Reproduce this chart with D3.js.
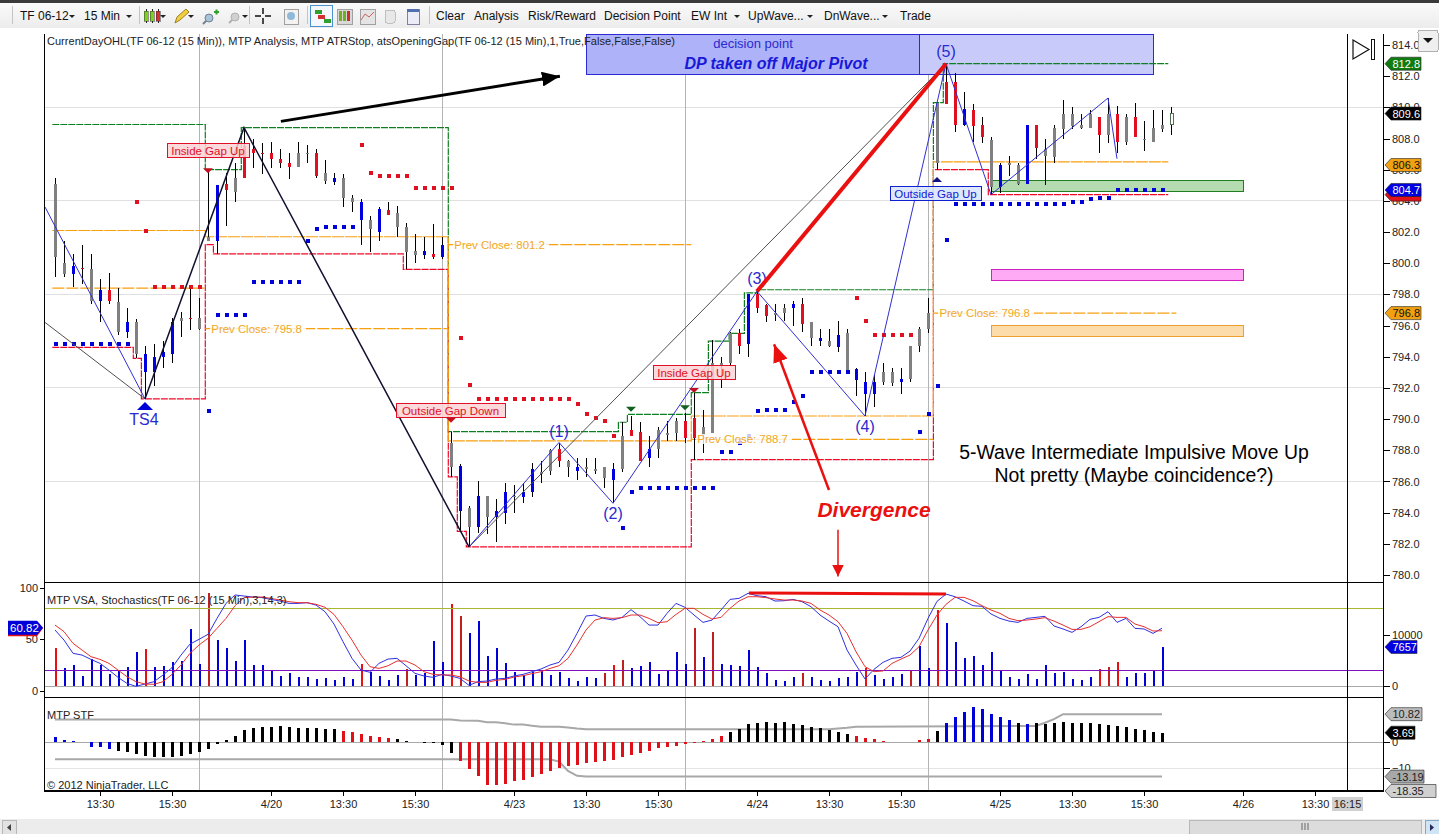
<!DOCTYPE html>
<html>
<head>
<meta charset="utf-8">
<script src="https://cdn.jsdelivr.net/npm/d3@7"></script>
<style>
  html, body { margin: 0; padding: 0; background: #fff; overflow: hidden; }
  svg { display: block; }
  text { font-family: "Liberation Sans", Arial, sans-serif; }
  line, rect { shape-rendering: crispEdges; }
</style>
</head>
<body>
<svg width="1439" height="834"></svg>
<script>
// candles, one entry per 15 min bar
const highs = [805.5,801.4,800.6,801.2,800.6,799.0,799.4,798.4,797.1,796.4,
  794.7,794.8,795.0,796.5,796.9,798.5,797.8,806.0,805.0,805.8,
  806.4,808.7,808.0,807.7,807.8,807.3,807.1,807.8,807.6,807.3,
  806.6,805.8,805.7,804.4,804.1,803.0,803.6,803.9,803.7,802.6,
  801.9,801.7,802.5,801.7,789.2,787.1,784.4,786.0,785.1,784.9,
  785.9,785.8,785.9,787.2,787.3,788.1,788.5,787.4,787.5,787.5,
  787.5,786.9,787.2,789.8,790.2,789.8,788.9,789.5,789.9,790.1,
  790.4,791.7,790.6,795.1,794.0,795.6,795.8,798.0,798.2,797.4,
  797.4,797.4,797.6,797.8,796.2,795.8,795.8,796.3,795.8,793.3,
  793.0,792.8,793.6,793.3,793.3,794.7,795.9,797.8,810.3,812.8,
  812.2,811.0,810.2,809.4,808.1,806.4,806.9,806.4,808.9,808.9,
  808.0,808.9,810.5,810.0,809.6,809.8,809.4,810.6,810.1,809.6,
  810.3,809.1,809.8,809.8,810.0];
const lows = [799.1,799.1,798.5,798.7,797.4,796.2,797.4,795.4,795.2,793.9,
  791.3,792.1,793.3,793.6,795.3,795.7,795.7,801.4,800.6,802.4,
  803.9,805.5,806.1,805.7,806.1,806.1,805.4,806.2,806.4,805.5,
  805.1,805.0,803.6,803.3,801.2,800.7,801.4,803.1,801.7,799.6,
  800.0,800.3,800.3,800.3,786.3,782.8,781.8,782.7,782.6,782.1,
  783.3,784.0,784.6,785.0,785.9,786.4,786.9,786.3,786.1,786.3,
  786.5,785.6,784.6,786.6,788.9,787.3,786.9,787.5,788.6,788.6,
  788.5,787.4,787.8,789.1,792.0,793.5,794.2,794.0,796.8,796.2,
  796.3,796.3,796.0,795.6,794.7,794.7,794.6,794.3,793.1,791.5,
  790.2,790.8,792.2,792.1,791.6,792.4,794.3,795.5,806.0,810.2,
  808.4,808.8,807.8,807.7,804.4,804.5,805.6,805.0,805.1,806.7,
  805.0,806.4,808.0,808.6,808.6,808.7,807.1,807.7,807.1,807.6,
  808.1,807.2,807.8,808.4,808.2];
const opens = [800.4,799.3,799.3,799.7,797.6,797.6,798.3,795.6,795.6,794.2,
  793.0,793.0,794.0,794.2,796.3,796.5,795.8,801.4,801.4,805.1,
  804.6,807.5,807.3,807.1,807.1,806.7,806.4,806.2,807.0,807.1,
  805.3,805.2,804.2,803.9,802.8,802.2,802.0,803.4,802.3,800.7,
  800.5,800.5,800.6,800.4,786.9,784.1,783.1,783.1,783.7,783.7,
  784.0,785.0,785.0,785.3,786.5,786.7,788.1,786.9,786.7,786.8,
  786.7,786.2,786.1,786.8,789.3,789.2,787.5,788.1,789.0,789.1,
  789.9,790.1,789.0,789.1,793.5,793.6,795.5,794.8,798.0,797.3,
  796.7,796.8,797.1,797.4,795.2,795.0,794.7,794.6,793.1,792.5,
  791.6,791.6,792.4,792.3,792.4,792.6,794.7,795.8,806.4,811.6,
  811.6,808.9,809.8,808.9,804.9,804.9,806.3,805.1,805.1,808.9,
  806.9,806.8,808.6,808.8,808.7,808.7,809.4,808.2,809.6,807.8,
  809.4,807.9,807.8,808.6,808.9];
const closes = [805.1,800.0,799.8,799.6,799.6,798.3,797.6,797.5,796.2,796.2,
  794.2,794.0,794.3,796.2,796.5,796.4,796.5,801.7,805.0,804.7,
  805.5,805.5,807.1,807.0,806.7,806.4,806.2,807.1,807.1,805.6,
  805.8,805.5,805.5,804.2,803.9,802.8,803.5,803.1,803.2,802.3,
  800.8,800.8,800.4,801.2,788.5,787.0,784.3,785.1,785.1,784.1,
  785.3,785.1,785.3,786.8,786.6,788.0,787.3,787.3,786.9,786.9,
  786.8,786.9,786.8,788.9,788.9,787.3,788.1,789.3,789.1,789.9,
  788.8,788.8,789.5,793.6,793.6,795.5,794.7,798.0,797.1,796.6,
  796.8,797.1,797.4,796.1,796.2,795.2,795.0,795.4,795.5,793.2,
  792.4,792.4,793.0,793.0,792.6,794.7,795.8,796.8,810.3,810.2,
  808.9,809.9,808.8,808.1,807.9,806.3,806.4,806.3,808.9,807.4,
  807.3,808.7,809.6,809.6,808.9,809.6,808.2,809.6,807.8,809.4,
  808.1,808.0,808.7,808.9,809.6];
const barColors = "ggbrgbrgbg" + "bbbbgrggbr" + "grrrrrrggr" + "gbggbgbrgg" + "gbrbgbgbgb" +
  "bgbbggrgbg" + "ggbgrrbggg" + "rrggggrbrr" + "ggbrgbgbgb" + "bbggbggggr" +
  "rbrrgbggbr" + "ggggggrgrg" + "rgggw";

// ATR stop dots
const stopValues = [794.8,794.8,794.8,794.8,794.8,794.8,794.8,794.8,794.8,803.9,
  802.1,798.5,798.5,798.5,798.5,798.5,798.5,790.5,796.7,796.7,
  796.7,796.7,798.8,798.8,798.8,798.8,798.8,798.8,801.4,802.2,
  802.3,802.3,802.3,802.3,807.6,805.8,805.6,805.6,805.6,805.6,
  804.8,804.8,804.8,804.8,804.8,795.2,792.2,791.3,791.3,791.3,
  791.3,791.3,791.3,791.3,791.3,791.3,791.3,791.3,791.0,790.3,
  790.1,789.9,788.9,783.0,785.3,785.6,785.6,785.6,785.6,785.6,
  785.6,785.6,785.6,785.6,787.9,787.9,788.5,788.9,790.5,790.6,
  790.6,790.6,791.1,791.5,793.0,793.0,793.0,793.0,793.0,797.8,
  796.3,795.4,795.4,795.4,795.4,795.4,789.2,790.3,792.1,801.5,
  803.8,803.8,803.8,803.8,803.8,803.8,803.8,803.8,803.8,803.8,
  803.8,803.8,803.8,803.9,803.9,804.1,804.2,804.2,804.7,804.7,
  804.7,804.7,804.7,804.7];
const stopRedBars = [[9,16],[34,62],[89,95]];

// volume, stochastics
const volume = [7390,3470,4120,1960,5300,4120,2350,3140,3730,6670,
  7260,3730,3920,4710,4900,11180,4320,18180,9030,7460,
  4900,9030,4120,4120,3140,1960,2550,1770,1770,1370,
  1570,1180,1770,1370,4320,2810,1960,1180,2160,3340,
  2160,2550,8830,4710,16090,13730,10400,12750,5890,7460,
  4510,2750,2160,2810,3140,2160,2750,1570,980,1770,
  1570,2550,4120,5100,3530,3920,4710,2350,3140,6670,
  4320,11380,5690,10590,4320,4120,3920,7060,3730,2550,
  1180,980,1770,2550,1770,1180,980,1570,1770,2750,
  3530,2160,1370,1770,2350,2940,7850,3530,14910,12360,
  8630,5490,5890,4120,6670,2940,1770,1370,2350,1370,
  4120,2550,2750,1370,1180,1770,3340,3730,4710,1770,
  2550,2550,3010,7657];
const volRedBars = [0,10,34,44,62,90,98,116,118];
const volDarkBars = [17,39,45,61,63,71,73,83,95,117];
const stochK = [59.1,49.3,36.4,34.7,30.5,26.6,20.1,13.0,7.1,4.2,
  6.5,8.8,15.3,22.4,34.7,45.4,50.0,54.9,70.4,85.0,
  93.2,92.2,91.2,90.6,88.9,87.3,85.0,85.0,85.7,83.4,
  76.9,64.9,47.7,31.5,20.1,17.9,26.6,30.8,31.5,24.3,
  16.9,14.3,13.0,15.9,14.3,12.0,5.2,8.8,9.4,11.4,
  12.0,14.3,15.9,18.5,21.1,25.0,27.6,39.6,55.8,72.7,
  73.7,70.4,68.8,71.4,78.9,72.1,63.9,63.9,75.3,85.0,
  81.2,73.7,66.5,68.8,78.6,88.9,89.9,94.8,92.5,91.5,
  87.3,87.6,88.9,86.7,81.8,73.7,67.8,62.3,39.6,25.0,
  11.4,20.8,27.6,31.5,32.5,38.6,51.0,70.4,87.0,94.1,
  91.5,87.3,82.8,82.1,74.7,70.4,67.8,66.5,70.4,71.4,
  72.4,63.0,60.1,56.8,62.3,69.5,71.4,76.9,66.5,70.4,
  60.7,60.1,55.8,60.82];
const stochD = [63.9,57.5,46.1,39.6,33.1,30.5,26.6,20.1,13.6,8.8,
  6.5,6.2,8.8,15.9,25.0,36.4,44.5,51.0,60.7,70.4,
  82.8,90.6,91.2,91.2,89.9,88.3,86.7,85.7,85.7,84.1,
  81.2,74.3,62.3,49.3,34.7,23.4,21.7,24.3,28.9,28.9,
  25.0,18.5,15.9,15.3,15.3,13.6,9.4,8.1,8.1,10.1,
  11.0,13.3,14.6,16.6,18.5,21.7,24.3,31.5,44.5,59.1,
  68.8,71.1,70.4,71.1,73.7,73.7,70.4,66.2,67.2,74.3,
  80.2,80.2,74.3,69.8,71.4,80.2,87.3,91.5,91.5,90.6,
  89.3,88.3,88.3,87.3,85.0,78.6,73.7,67.2,55.8,38.0,
  23.4,18.5,19.2,26.6,30.8,34.7,42.8,59.1,73.7,84.1,
  90.9,90.9,87.6,82.8,78.6,75.3,70.4,68.2,68.8,69.8,
  71.1,67.8,63.9,59.7,59.7,62.3,67.2,72.1,71.4,71.4,
  64.9,62.3,58.1,58.4];

// MTP STF histogram and its bands
const stfValues = [1.9,0.9,0.5,0.1,-1.8,-1.8,-2.4,-3.3,-3.6,-4.5,
  -5.2,-5.6,-5.6,-5.6,-5.2,-4.5,-3.7,-2.6,-0.6,0.8,
  2.4,4.7,5.5,5.9,5.9,6.3,5.9,5.5,5.5,5.5,
  5.1,5.1,4.4,4.0,3.2,2.4,2.0,1.7,1.3,0.5,
  0.1,-0.1,-0.3,-1.2,-4.0,-7.0,-10.1,-12.9,-16.4,-16.4,
  -16.0,-14.8,-14.5,-13.3,-12.2,-11.0,-9.9,-9.1,-8.7,-7.9,
  -7.6,-7.2,-6.8,-5.6,-4.9,-4.1,-3.3,-2.2,-1.8,-1.4,
  -0.6,-0.3,0.5,1.3,2.4,4.0,5.1,7.0,7.4,7.8,
  7.4,7.8,7.0,6.7,5.9,5.5,4.7,4.0,3.2,2.4,
  1.7,1.3,0.5,0.1,0,0.1,0.9,1.3,4.4,7.4,
  9.7,11.6,13.6,12.8,10.9,9.7,8.6,7.4,7.0,7.4,
  7.0,7.4,7.8,7.4,7.4,7.4,7.0,6.7,6.3,5.9,
  5.1,4.7,4.0,3.69];
const stfBlueBars = [[0,6],[99,106],[108,108]];
const stfRedBars = [[32,37],[45,74],[89,97]];
const upperBandBars = [0,44,45,47,48,49,50,51,52,53,54,56,57,58,59,86,87,88,89,109,110,111,112,123];
const upperBand = [8.8,8.8,8.4,8.3,7.7,7.7,7.3,6.8,6.8,6.4,6.0,6.0,5.7,5.3,5.0,5.0,5.3,5.6,6.0,6.3,7.5,8.9,10.82,10.82];
const lowerBandBars = [0,55,56,57,58,59,123];
const lowerBand = [-6.5,-6.5,-7.4,-11.0,-12.9,-13.19,-13.19];

// axis ticks
const priceTicks = [780,782,784,786,788,790,792,794,796,798,800,802,804,806,808,810,812,814];
const priceGrid = [786,792,798,804,810];
const timeTickBars = [5,13,24,32,40,51,59,67,78,86,94,105,113,121,132,140];
const timeTickLabels = ["13:30","15:30","4/20","13:30","15:30","4/23","13:30","15:30","4/24","13:30","15:30","4/25","13:30","15:30","4/26","13:30"];
const sessionBars = [16.05,43.05,70.05,97.05];

// current day OHL steps as [bar, price]
const dayHigh = [[-0.3,808.9],[16.7,808.9],[16.7,806.0],[20.7,806.0],[20.7,808.7],[43.7,808.7],[43.7,789.2],[62.6,789.2],[62.6,789.8],[63.6,789.8],[63.6,790.3],[70.7,790.3],[70.7,791.7],[72.6,791.7],[72.6,795.0],[74.9,795.0],[74.9,795.5],[76.6,795.5],[76.6,798.1],[78,798.1],[78,798.3],[97.6,798.3],[97.6,810.3],[98.7,810.3],[98.7,812.8],[123.7,812.8]];
const dayLow = [[-0.3,794.6],[8.7,794.6],[8.7,793.9],[9.6,793.9],[9.6,791.3],[16.7,791.3],[16.7,801.2],[17.6,801.2],[17.6,800.6],[38.7,800.6],[38.7,799.6],[43.7,799.6],[43.7,786.3],[44.7,786.3],[44.7,782.8],[45.7,782.8],[45.7,781.8],[70.7,781.8],[70.7,787.4],[97.6,787.4],[97.6,806.0],[103.7,806.0],[103.7,804.4],[123.7,804.4]];
const dayOpen = [[-0.3,802.1],[16.7,802.1],[16.7,801.7],[43.7,801.7],[43.7,788.6],[70.7,788.6],[70.7,790.2],[97.6,790.2],[97.6,806.5],[123.7,806.5]];
const firstPrevClose = [[-0.3,798.4],[16.7,798.4]];
const prevCloseValues = [795.8,801.2,788.7,796.8];
const prevCloseFrom = [16.7,43.7,70.7,97.6];
const prevCloseTo = [43.7,70.7,97.6,124.6];

// wave lines as [bar, price]
const blackSwing = [[10,791.3],[21,808.7],[46,781.8]];
const blueLead = [[-1.1,803.6],[10,791.3]];
const grayLead = [[-1.1,796.2],[10,791.3]];
const grayTrend = [[46,781.8],[99,812.8]];
const blueWaves = [[46,781.8],[56,788.5],[62,784.6],[78,798.2],[90,790.2],[99,812.8],[104,804.4],[117,810.6],[118,806.7]];
const waveLabels = ["(1)","(2)","(3)","(4)","(5)"];
const waveLabelBars = [56,62,78,90,99];
const waveLabelPrices = [788.85,783.6,798.65,789.15,813.2];

const svg = d3.select("svg");
const font = "Liberation Sans";

const x = d3.scaleLinear().domain([0, 124]).range([55, 1171]);
const y = d3.scaleLinear().domain([780, 814]).range([575, 45]);
const yS = d3.scaleLinear().domain([0, 100]).range([690.7, 588]);
const yV = d3.scaleLinear().domain([0, 10000]).range([686, 635]);
const yF = d3.scaleLinear().domain([0, -10]).range([742.3, 768.3]);

const inRuns = (runs, i) => runs.some(r => i >= r[0] && i <= r[1]);
const pathP = d3.line().x(d => x(d[0])).y(d => y(d[1]));

// ---- window chrome
const defs = svg.append("defs");
const tbGrad = defs.append("linearGradient").attr("id", "tb").attr("x1", 0).attr("x2", 0).attr("y1", 0).attr("y2", 1);
tbGrad.append("stop").attr("offset", "0%").attr("stop-color", "#fafafa");
tbGrad.append("stop").attr("offset", "100%").attr("stop-color", "#ececec");
svg.append("rect").attr("width", 1439).attr("height", 3).attr("fill", "#3a3a3a");
svg.append("rect").attr("y", 3).attr("width", 1439).attr("height", 25).attr("fill", "url(#tb)");

const toolbar = svg.append("g").attr("font-size", 12).attr("fill", "#111");
const toolText = ["TF 06-12","15 Min","Clear","Analysis","Risk/Reward","Decision Point","EW Int","UpWave...","DnWave...","Trade"];
const toolTextX = [20,84,436,474,528,604,691,748,824,900];
toolText.forEach((t, i) => toolbar.append("text").attr("x", toolTextX[i]).attr("y", 20).text(t));
[72,129,191,245,737,810,885,163].forEach(px => toolbar.append("path").attr("d", `M${px - 3},15 h6 l-3,3 z`).attr("fill", "#222"));
[12,139,249,307,429].forEach(px => toolbar.append("line").attr("x1", px).attr("x2", px).attr("y1", 6).attr("y2", 24).attr("stroke", "#c4c4c4"));

// toolbar icons
const icon = toolbar.append("g");
[146,152,158].forEach((px, i) => {
  icon.append("line").attr("x1", px).attr("x2", px).attr("y1", 9).attr("y2", 23).attr("stroke", "#222");
  icon.append("rect").attr("x", px - 2).attr("y", 11).attr("width", 4).attr("height", 10).attr("fill", i === 2 ? "#d83030" : "#80d020").attr("stroke", "#333").attr("stroke-width", 0.5);
});
icon.append("path").attr("d", "M175,23 l2,-6 l9,-8 l3,3 l-9,8 z").attr("fill", "#f0d040").attr("stroke", "#a08020");
icon.append("circle").attr("cx", 209).attr("cy", 18).attr("r", 4).attr("fill", "#a8c4d8").attr("stroke", "#708090");
icon.append("path").attr("d", "M206,21 l-3,3").attr("stroke", "#708090").attr("stroke-width", 2);
icon.append("path").attr("d", "M214,12 h5 M216.5,9.5 v5").attr("stroke", "#30a030").attr("stroke-width", 2);
icon.append("circle").attr("cx", 235).attr("cy", 17).attr("r", 4).attr("fill", "#d0d0d0").attr("stroke", "#b0b0b0");
icon.append("path").attr("d", "M232,20 l-3,3").attr("stroke", "#b0b0b0").attr("stroke-width", 2);
icon.append("path").attr("d", "M255,16 h6 M265,16 h6 M263,8 v6 M263,18 v6").attr("stroke", "#111").attr("stroke-width", 1.5);
icon.append("rect").attr("x", 284).attr("y", 9).attr("width", 14).attr("height", 15).attr("fill", "#f2f2f2").attr("stroke", "#a0a0a0");
icon.append("circle").attr("cx", 291).attr("cy", 16).attr("r", 4).attr("fill", "#90b8d8");
icon.append("rect").attr("x", 310.5).attr("y", 5.5).attr("width", 22).attr("height", 21).attr("fill", "#f4f8fc").attr("stroke", "#4a90d0");
[[315,10,"#30a030"],[318,15,"#d83030"],[324,19,"#30a030"]].forEach(d => icon.append("rect").attr("x", d[0]).attr("y", d[1]).attr("width", 7).attr("height", 4).attr("fill", d[2]));
icon.append("rect").attr("x", 337).attr("y", 9).attr("width", 15).attr("height", 15).attr("fill", "#d8d8d8").attr("stroke", "#a0a0a0");
[340,344,348].forEach((px, i) => icon.append("rect").attr("x", px - 1).attr("y", 11).attr("width", 3).attr("height", 10).attr("fill", i === 2 ? "#c83030" : "#70b020"));
icon.append("rect").attr("x", 360).attr("y", 9).attr("width", 15).attr("height", 15).attr("fill", "#e4e4e4").attr("stroke", "#a0a0a0");
icon.append("path").attr("d", "M361,20 l4,-6 l4,3 l5,-5").attr("fill", "none").attr("stroke", "#d06060");
icon.append("rect").attr("x", 385).attr("y", 10).attr("width", 10).attr("height", 13).attr("rx", 2).attr("fill", "#e8e8e8").attr("stroke", "#c0c0c0");
icon.append("rect").attr("x", 407).attr("y", 9).attr("width", 12).attr("height", 15).attr("fill", "#ececf8").attr("stroke", "#8080a0");
icon.append("rect").attr("x", 407).attr("y", 9).attr("width", 12).attr("height", 3).attr("fill", "#5070b0");

// ---- grid and session separators
svg.append("g").selectAll("line").data(priceGrid).join("line")
  .attr("x1", 45).attr("x2", 1383).attr("y1", d => y(d)).attr("y2", d => y(d))
  .attr("stroke", "#e0e0e0");
svg.append("line").attr("x1", 45).attr("x2", 1383).attr("y1", yF(-10)).attr("y2", yF(-10)).attr("stroke", "#e4e4e4");
svg.append("g").selectAll("line").data(sessionBars).join("line")
  .attr("x1", d => x(d)).attr("x2", d => x(d)).attr("y1", 34).attr("y2", 790)
  .attr("stroke", "#b4b4b4");

// ---- zones
const zones = [[805.3,804.6,"#b4dcb0","#208020"],[799.6,798.9,"#ffaaf4","#d020c0"],[796.0,795.3,"#fbdcaa","#eca030"]];
svg.append("g").selectAll("rect").data(zones).join("rect")
  .attr("x", x(104)).attr("width", x(132.1) - x(104))
  .attr("y", d => y(d[0])).attr("height", d => y(d[1]) - y(d[0]))
  .attr("fill", d => d[2]).attr("stroke", d => d[3]);

// decision point box
svg.append("rect").attr("x", 586.5).attr("y", 34).attr("width", 333).attr("height", 40).attr("fill", "#aeb2f8").attr("stroke", "#2a2ad0");
svg.append("rect").attr("x", 919.5).attr("y", 34).attr("width", 234).attr("height", 40).attr("fill", "#c8cafa").attr("stroke", "#2a2ad0");
svg.append("text").attr("x", 753).attr("y", 48).attr("text-anchor", "middle").attr("font-size", 13).attr("fill", "#2a2ad0").text("decision point");
svg.append("text").attr("x", 776).attr("y", 69).attr("text-anchor", "middle").attr("font-size", 16).attr("font-weight", "bold").attr("font-style", "italic").attr("fill", "#1818d8").text("DP taken off Major Pivot");

// ---- OHL and previous close steps, nearly solid dashes keep their colour
const stepLine = (pts, color, dash) => svg.append("path").attr("d", pathP(pts)).attr("fill", "none").attr("stroke", color).attr("stroke-width", 1.2).attr("stroke-dasharray", dash);
stepLine(dayHigh, "#0c8020", "7,1");
stepLine(dayLow, "#f00828", "7,1");
prevCloseValues.forEach((v, i) => {
  stepLine([[prevCloseFrom[i], v], [prevCloseTo[i], v]], "#f8a010", "12,2");
});
stepLine(firstPrevClose, "#f8a010", "12,2");
stepLine(dayOpen, "#f8a010", "12,1");

// ---- candles
const cColor = { g: "#808080", b: "#0000e0", r: "#e01020", w: "#fff" };
const candles = svg.append("g").selectAll("g").data(d3.range(highs.length)).join("g");
candles.append("line")
  .attr("x1", i => x(i) + 0.5).attr("x2", i => x(i) + 0.5)
  .attr("y1", i => y(highs[i])).attr("y2", i => y(lows[i]))
  .attr("stroke", "#000");
candles.append("rect")
  .attr("x", i => x(i) - 1).attr("width", 3)
  .attr("y", i => y(Math.max(opens[i], closes[i])))
  .attr("height", i => Math.max(1.5, Math.abs(y(opens[i]) - y(closes[i]))))
  .attr("fill", i => cColor[barColors[i]])
  .attr("stroke", i => barColors[i] === "w" ? "#507050" : "none");

// ---- ATR stop dots
svg.append("g").selectAll("rect").data(d3.range(stopValues.length)).join("rect")
  .attr("x", i => x(i) - 1.5).attr("y", i => y(stopValues[i]) - 2)
  .attr("width", 4).attr("height", 4)
  .attr("fill", i => inRuns(stopRedBars, i) ? "#e01020" : "#0000d8");

// ---- swing lines and waves
const swing = (pts, color, w) => svg.append("path").attr("d", pathP(pts)).attr("fill", "none").attr("stroke", color).attr("stroke-width", w);
swing(grayLead, "#505050", 1);
swing(grayTrend, "#505050", 1);
swing(blueLead, "#3030d0", 1);
swing(blueWaves, "#3030d0", 1);
swing(blackSwing, "#101030", 1.5);

svg.append("g").selectAll("text").data(waveLabels).join("text")
  .attr("x", (d, i) => x(waveLabelBars[i])).attr("y", (d, i) => y(waveLabelPrices[i]))
  .attr("text-anchor", "middle").attr("font-size", 16).attr("fill", "#2a2ad0").text(d => d);

// TS4 marker
svg.append("path").attr("d", `M${x(10)},${y(791.1)} l8,8 h-16 z`).attr("fill", "#0000d8");
svg.append("text").attr("x", x(10) - 1).attr("y", y(790) + 6).attr("text-anchor", "middle").attr("font-size", 16).attr("fill", "#2a2ad0").text("TS4");

// ---- gap boxes
const gapText = ["Inside Gap Up","Outside Gap Down","Inside Gap Up","Outside Gap Up"];
const gapLeft = [167,396,653,890];
const gapTop = [143,403,365,186];
const gapWidth = [82,109,82,91];
const gapBlue = [false,false,false,true];
gapText.forEach((t, i) => {
  const c = gapBlue[i] ? "#1020d0" : "#e01028";
  svg.append("rect").attr("x", gapLeft[i] + 0.5).attr("y", gapTop[i] + 0.5).attr("width", gapWidth[i]).attr("height", 14)
    .attr("fill", gapBlue[i] ? "#d8e4fc" : "#fbd2d4").attr("stroke", c).attr("fill-opacity", 0.85);
  svg.append("text").attr("x", gapLeft[i] + gapWidth[i] / 2).attr("y", gapTop[i] + 11.5)
    .attr("text-anchor", "middle").attr("font-size", 11.5).attr("fill", c).text(t);
});
const gapArrows = [[17,805.9,"#c01020",1],[44,789.9,"#c01020",1],[71,791.8,"#c01020",1],[98,805.4,"#101080",-1],[64,790.6,"#106020",1],[70,790.7,"#106020",1]];
svg.append("g").selectAll("path").data(gapArrows).join("path")
  .attr("d", d => `M${x(d[0]) - 5},${y(d[1]) - 3 * d[3]} h10 l-5,${5 * d[3]} z`)
  .attr("fill", d => d[2]);

// prev close labels over the lines
prevCloseValues.forEach((v, i) => {
  const left = x(prevCloseFrom[i]) + 5;
  svg.append("rect").attr("x", left).attr("y", y(v) - 5).attr("width", 96).attr("height", 10).attr("fill", "#fff").attr("fill-opacity", 0.8);
  svg.append("text").attr("x", left + 1).attr("y", y(v) + 4)
    .attr("font-size", 11.4).attr("fill", "#f0a828")
    .text("Prev Close: " + v.toFixed(1));
});

// ---- drawn annotations
const arrowHead = (id, color, w, h) => {
  defs.append("marker").attr("id", id).attr("markerUnits", "userSpaceOnUse")
    .attr("viewBox", `0 0 ${w} ${h}`).attr("markerWidth", w).attr("markerHeight", h)
    .attr("refX", w).attr("refY", h / 2).attr("orient", "auto")
    .append("path").attr("d", `M0,0 L${w},${h / 2} L0,${h} Z`).attr("fill", color);
};
arrowHead("ah-black", "#000", 18, 15);
arrowHead("ah-red", "#ea1010", 18, 15);
arrowHead("ah-red2", "#ea1010", 12, 12);
const arrow = (a, b, color, w, m) => svg.append("line")
  .attr("x1", x(a[0])).attr("y1", y(a[1])).attr("x2", x(b[0])).attr("y2", y(b[1]))
  .attr("stroke", color).attr("stroke-width", w).attr("marker-end", m ? `url(#${m})` : null)
  .style("shape-rendering", "geometricPrecision");
arrow([25.1, 809.1], [56.1, 812.0], "#000", 3, "ah-black");
arrow([78, 798.2], [99, 812.8], "#ea1010", 4);
arrow([86, 785.45], [79.9, 794.8], "#ea1010", 2.5, "ah-red");
arrow([87, 782.9], [87, 779.9], "#ea1010", 1.5, "ah-red2");
svg.append("text").attr("x", x(91)).attr("y", y(784.4) + 11).attr("text-anchor", "middle")
  .attr("font-size", 21).attr("font-weight", "bold").attr("font-style", "italic").attr("fill", "#ea1010").text("Divergence");

const noteLines = ["5-Wave Intermediate Impulsive Move Up","Not pretty (Maybe coincidence?)"];
svg.append("g").selectAll("text").data(noteLines).join("text")
  .attr("x", 1134).attr("y", (d, i) => 459 + i * 23).attr("text-anchor", "middle")
  .attr("font-size", 19.4).attr("fill", "#000").text(d => d);

// ---- volume and stochastics pane
const volFill = i => volRedBars.includes(i) ? "#e81010" : volDarkBars.includes(i) ? "#c02020" : "#0000d8";
svg.append("g").selectAll("rect").data(d3.range(volume.length)).join("rect")
  .attr("x", i => x(i) - 0.5).attr("width", 2)
  .attr("y", i => yV(volume[i])).attr("height", i => yV(0) - yV(volume[i]))
  .attr("fill", volFill);
svg.append("line").attr("x1", 45).attr("x2", 1383).attr("y1", yV(0) + 0.5).attr("y2", yV(0) + 0.5).attr("stroke", "#a8a8a8");
svg.append("line").attr("x1", 45).attr("x2", 1383).attr("y1", yS(80)).attr("y2", yS(80)).attr("stroke", "#a8b830");
svg.append("line").attr("x1", 45).attr("x2", 1383).attr("y1", yS(20)).attr("y2", yS(20)).attr("stroke", "#8010c0");
const stochLine = d3.line().x((d, i) => x(i)).y(d => yS(d));
svg.append("path").attr("d", stochLine(stochK)).attr("fill", "none").attr("stroke", "#3030e0");
svg.append("path").attr("d", stochLine(stochD)).attr("fill", "none").attr("stroke", "#e83030");
svg.append("line").attr("x1", x(77.1)).attr("x2", x(99)).attr("y1", yS(95.1)).attr("y2", yS(94.1)).attr("stroke", "#ea1010").attr("stroke-width", 3).style("shape-rendering", "geometricPrecision");

// ---- STF pane
const stfFill = i => inRuns(stfBlueBars, i) ? "#0000d8" : inRuns(stfRedBars, i) ? "#e01018" : "#000";
svg.append("line").attr("x1", 45).attr("x2", 1383).attr("y1", yF(0)).attr("y2", yF(0)).attr("stroke", "#a8a8a8");
const bandLine = bars => d3.line().x((d, i) => x(bars[i])).y(d => yF(d));
svg.append("path").attr("d", bandLine(upperBandBars)(upperBand)).attr("fill", "none").attr("stroke", "#a8a8a8").attr("stroke-width", 2);
svg.append("path").attr("d", bandLine(lowerBandBars)(lowerBand)).attr("fill", "none").attr("stroke", "#a8a8a8").attr("stroke-width", 2);
svg.append("g").selectAll("rect").data(d3.range(stfValues.length)).join("rect")
  .attr("x", i => x(i) - 1).attr("width", 3)
  .attr("y", i => yF(Math.max(0, stfValues[i])))
  .attr("height", i => Math.abs(yF(stfValues[i]) - yF(0)))
  .attr("fill", stfFill);

// ---- panel text
const paneText = svg.append("g").attr("font-size", 11).attr("fill", "#222");
paneText.append("text").attr("x", 47).attr("y", 45).attr("textLength", 628).text("CurrentDayOHL(TF 06-12 (15 Min)), MTP Analysis, MTP ATRStop, atsOpeningGap(TF 06-12 (15 Min),1,True,False,False,False)");
paneText.append("text").attr("x", 47).attr("y", 604).text("MTP VSA, Stochastics(TF 06-12 (15 Min),3,14,3)");
paneText.append("text").attr("x", 47).attr("y", 719).text("MTP STF");
paneText.append("text").attr("x", 47).attr("y", 789).text("© 2012 NinjaTrader, LLC");

// ---- frame
const frame = [[44.5,34,44.5,790],[1347.5,34,1347.5,790],[1383.5,34,1383.5,790],[44.5,582.5,1383.5,582.5],[44.5,697.5,1383.5,697.5]];
svg.append("g").selectAll("line").data(frame).join("line")
  .attr("x1", d => d[0]).attr("y1", d => d[1]).attr("x2", d => d[2]).attr("y2", d => d[3]).attr("stroke", "#000");
svg.append("line").attr("x1", 44).attr("x2", 1384).attr("y1", 791).attr("y2", 791).attr("stroke", "#000").attr("stroke-width", 2);

// ---- axes
const styleAxis = g => {
  g.select(".domain").remove();
  g.selectAll("text").attr("font-size", 11).attr("font-family", font).attr("fill", "#222");
};
svg.append("g").attr("transform", "translate(1384,0)")
  .call(d3.axisRight(y).tickValues(priceTicks).tickSize(6).tickPadding(2).tickFormat(d3.format(".1f"))).call(styleAxis);
svg.append("g").attr("transform", "translate(1384,0)")
  .call(d3.axisRight(yV).tickValues([0, 10000]).tickSize(6).tickPadding(2).tickFormat(d3.format("d"))).call(styleAxis);
svg.append("g").attr("transform", "translate(1384,0)")
  .call(d3.axisRight(yF).tickValues([0, -10]).tickSize(6).tickPadding(2).tickFormat(d3.format("d"))).call(styleAxis);
svg.append("g").attr("transform", "translate(44,0)")
  .call(d3.axisLeft(yS).tickValues([0, 50, 100]).tickSize(4).tickPadding(2).tickFormat(d3.format("d"))).call(styleAxis);
svg.append("g").attr("transform", "translate(0,792)")
  .call(d3.axisBottom(x).tickValues(timeTickBars).tickSize(4).tickPadding(4)
    .tickFormat((d, i) => timeTickLabels[i])).call(styleAxis);

// ---- value flags on the axes
const flagValues = [812.8,806.3,804.4,804.7,796.8,809.6];
const flagFills = ["#107c10","#f0a010","#e01018","#0000e0","#f0a010","#000"];
const flagInk = ["#fff","#111","#fff","#fff","#111","#fff"];
const drawFlag = (py, w, label, fill, ink) => {
  const g = svg.append("g").attr("transform", `translate(1385,${py})`);
  g.append("path").attr("d", `M0,0 l6,-6.5 h${w - 6} v13 h-${w - 6} z`).attr("fill", fill).attr("stroke", "#222").attr("stroke-width", 0.6);
  if (label) g.append("text").attr("x", 7.5).attr("y", 4).attr("font-size", 11).attr("fill", ink).text(label);
};
// the red low flag sits almost fully behind the blue one, so it carries no label
flagValues.forEach((v, i) => drawFlag(y(v), 36, flagFills[i] === "#e01018" ? null : v.toFixed(1), flagFills[i], flagInk[i]));
drawFlag(yV(volume[123]), 32, "7657", "#0000e0", "#fff");
drawFlag(yF(10.82), 37, "10.82", "#bcbcbc", "#222");
drawFlag(yF(3.69), 30, "3.69", "#000", "#fff");
drawFlag(yF(-13.19), 39, "-13.19", "#a8a8a8", "#222");
drawFlag(791, 51, "-18.35", "#d0d0d0", "#222");

// left stochastic flag
const leftFlag = svg.append("g").attr("transform", `translate(43,${yS(stochK[123])})`);
leftFlag.append("path").attr("d", "M0,0 l-6,-7 h-29 v15 h29 z").attr("fill", "#e01010");
leftFlag.append("path").attr("d", "M0,-0.5 l-6,-7 h-29 v14 h29 z").attr("fill", "#0000d8");
leftFlag.append("text").attr("x", -33).attr("y", 4).attr("font-size", 11.5).attr("fill", "#fff").text(stochK[123].toFixed(2));

// current bar time
svg.append("rect").attr("x", 1332).attr("y", 797).attr("width", 31).attr("height", 14).attr("fill", "#d0d0d0");
svg.append("text").attr("x", 1347.5).attr("y", 808).attr("text-anchor", "middle").attr("font-size", 11).attr("fill", "#222").text("16:15");

// ---- play icon and corner button
svg.append("path").attr("d", "M1353,40 L1369,49.5 L1353,59 Z").attr("fill", "#fff").attr("stroke", "#111").attr("stroke-width", 1.2);
svg.append("rect").attr("x", 1371).attr("y", 39.5).attr("width", 3).attr("height", 20).attr("fill", "#fff").attr("stroke", "#111");
svg.append("rect").attr("x", 1418).attr("y", 30.5).attr("width", 20).attr("height", 21).attr("rx", 2).attr("fill", "#efefef").attr("stroke", "#b0b0b0");
svg.append("path").attr("d", "M1423,38 h10 l-5,5 z").attr("fill", "#111");

// ---- bottom scrollbar
svg.append("rect").attr("y", 819).attr("width", 1439).attr("height", 15).attr("fill", "#ececec");
svg.append("rect").attr("x", 2).attr("y", 820).attr("width", 14).attr("height", 14).attr("fill", "#e2e2e2").attr("stroke", "#b8b8b8");
svg.append("path").attr("d", "M11,824 l-4,3.5 l4,3.5 z").attr("fill", "#444");
svg.append("rect").attr("x", 1189.5).attr("y", 820).attr("width", 232).attr("height", 14).attr("fill", "#dcdcdc").attr("stroke", "#b8b8b8");
svg.append("path").attr("d", "M1302,823 v7 M1305,823 v7 M1308,823 v7").attr("stroke", "#666");
svg.append("rect").attr("x", 1425).attr("y", 820).attr("width", 14).attr("height", 14).attr("fill", "#cfe4f4").attr("stroke", "#80a8c8");
svg.append("path").attr("d", "M1430,824 l4,3.5 l-4,3.5 z").attr("fill", "#2a2a5a");
</script>
</body>
</html>
